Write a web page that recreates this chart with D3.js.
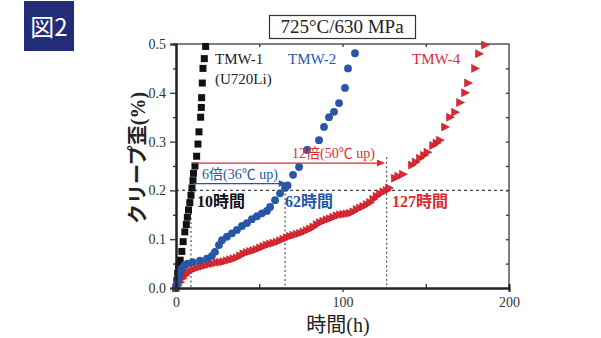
<!DOCTYPE html>
<meta charset="utf-8">
<style>
body { margin: 0; background: #fff; }
svg { display: block; }
.serif { font-family: "Liberation Serif", "Noto Sans CJK JP", serif; }
</style>
<body>
<script src="https://d3js.org/d3.v7.min.js"></script>
<script>

// creep curves: [hours, strain %]
var tmw1 = [[0,0],[0.5,0.015],[1,0.03],[1.5,0.045],[2.5,0.057],[3.5,0.075],[4.3,0.095],
  [5.3,0.115],[6.2,0.13],[6.8,0.145],[7.5,0.16],[8.3,0.175],[9,0.19],[9.6,0.205],[10.2,0.22],
  [10.5,0.235],[11.4,0.25],[12.4,0.27],[13.2,0.295],[13.8,0.32],[14.8,0.35],[15.2,0.37],
  [15.4,0.39],[15.8,0.42],[16.2,0.45],[17,0.47],[17.8,0.495]];

var tmw2 = [[0,0],[1,0.01],[1.5,0.02],[2.5,0.03],[3.5,0.04],[5,0.047],[7,0.05],[10,0.053],
  [14.4,0.056],[18.6,0.06],[21.6,0.066],[23.4,0.074],[25.8,0.088],[27.6,0.098],[30.6,0.105],
  [33.6,0.112],[36.6,0.119],[39.6,0.127],[42.6,0.133],[45.6,0.141],[48.6,0.147],[51.6,0.153],
  [54.6,0.158],[56.5,0.166],[59.5,0.18],[62.5,0.194],[65.5,0.205],[67,0.21],[70.3,0.232],
  [73.9,0.248],[78.7,0.283],[85.9,0.303],[88.9,0.33],[91.9,0.35],[94.9,0.361],[97.9,0.379],
  [101.5,0.41],[103.3,0.45],[107.5,0.481]];

var tmw4 = [[0,0],[1,0.005],[2.5,0.012],[4,0.02],[5.5,0.026],[7,0.031],[8.5,0.035],[10.5,0.038],
  [12.5,0.041],[14.5,0.043],[16.5,0.045],[18.5,0.047],[20.5,0.049],[22.5,0.05],[24.5,0.052],
  [26.5,0.053],[28.5,0.054],[30.5,0.056],[32.5,0.058],[34.5,0.06],[36.5,0.062],[38.5,0.066],
  [40.5,0.07],[42.5,0.073],[44.5,0.075],[46.5,0.077],[48.5,0.079],[50.5,0.082],[52.5,0.085],
  [54.5,0.088],[56.5,0.09],[58.5,0.092],[60.5,0.094],[62.5,0.097],[64.5,0.1],[66.5,0.103],
  [68.5,0.106],[70.5,0.108],[72.5,0.11],[74.5,0.112],[76.5,0.115],[78.5,0.118],[80.5,0.121],
  [82.5,0.125],[84.5,0.13],[86.5,0.134],[88.5,0.137],[90.5,0.14],[92.5,0.142],[94.5,0.145],
  [96.5,0.148],[98.5,0.15],[100.5,0.151],[102.5,0.152],[104.5,0.153],[106.5,0.156],[108.5,0.161],
  [110.5,0.164],[112.5,0.167],[114.5,0.171],[116.5,0.175],[118.5,0.182],[120.5,0.188],
  [122.5,0.193],[124.5,0.197],[126.5,0.2],[128,0.205],[131.5,0.225],[133.5,0.229],[136.3,0.233],
  [141.7,0.252],[144,0.258],[146.5,0.266],[149,0.272],[151,0.278],[154.4,0.292],[156.5,0.297],
  [158.5,0.303],[161.6,0.33],[164.6,0.35],[167.6,0.36],[170.6,0.38],[173.6,0.4],[175.4,0.42],
  [179.6,0.45],[182,0.48],[185.6,0.498]];

var xTicks = [0, 100, 200];
var yTicks = [0, 0.1, 0.2, 0.3, 0.4, 0.5];

// times to reach 0.2 %, where the dotted guides are drawn
var crossHours = [9, 65.5, 126.5];
var crossLabels = ["10時間", "62時間", "127時間"];

var blk = "#111", blu = "#2856a6", red = "#dc2a33";

var svg = d3.select("body").append("svg")
    .attr("width", 601)
    .attr("height", 338);

var x = d3.scaleLinear().domain([0, 200]).range([176, 509]);
var y = d3.scaleLinear().domain([0, 0.5]).range([288, 44]);

// badge
svg.append("rect").attr("x", 24).attr("y", 1).attr("width", 50).attr("height", 50)
    .style("fill", "#232c77");
svg.append("text").attr("x", 49).attr("y", 36).attr("text-anchor", "middle")
    .style("font-family", "'Noto Sans CJK JP', sans-serif").style("font-size", "24px")
    .style("fill", "#fff").text("図2");

// title box
svg.append("rect").attr("x", 269.5).attr("y", 15.5).attr("width", 146).attr("height", 23)
    .style("fill", "none").style("stroke", "#333").style("stroke-width", 1.2);
svg.append("text").attr("class", "serif").attr("x", 342).attr("y", 33)
    .attr("text-anchor", "middle").style("font-size", "19px").style("fill", "#222")
    .text("725°C/630 MPa");

// frame (top and right)
svg.append("path")
    .attr("d", "M" + x(0) + "," + y(0.5) + "H" + x(200) + "V" + y(0))
    .style("fill", "none").style("stroke", "#555").style("stroke-width", 1.5);

function styleAxis(g) {
  g.selectAll("line").style("stroke", "#333").style("stroke-width", 1.3);
  g.selectAll("path.domain").style("stroke", "#222").style("stroke-width", 2);
  g.selectAll("text").style("font-family", "'Liberation Serif', serif")
      .style("font-size", "14px").style("fill", "#333");
}

// right and top inward ticks
svg.append("g").attr("transform", "translate(" + x(200) + ",0)")
    .call(d3.axisRight(y).tickValues(d3.range(0.05, 0.5, 0.05)).tickSize(-3).tickFormat(""))
    .call(function(g) { g.select(".domain").remove(); })
    .call(styleAxis);
svg.append("g").attr("transform", "translate(0," + y(0.5) + ")")
    .call(d3.axisTop(x).tickValues([50, 100, 150]).tickSize(-3).tickFormat(""))
    .call(function(g) { g.select(".domain").remove(); })
    .call(styleAxis);

// guide lines
svg.append("line").attr("x1", x(0)).attr("x2", x(200)).attr("y1", y(0.2)).attr("y2", y(0.2))
    .style("stroke", "#444").style("stroke-width", 1.2).style("stroke-dasharray", "3,3");
var guideTops = [0.2, 0.212, 0.268];
crossHours.forEach(function(h, i) {
  svg.append("line").attr("x1", x(h)).attr("x2", x(h)).attr("y1", y(guideTops[i])).attr("y2", y(0))
      .style("stroke", "#555").style("stroke-width", 1.2).style("stroke-dasharray", "2,2.5");
});

// markers
var sq = 7;
svg.append("g").selectAll("rect").data(tmw1).enter().append("rect")
    .attr("x", function(d) { return x(d[0]) - sq / 2; })
    .attr("y", function(d) { return y(d[1]) - sq / 2; })
    .attr("width", sq).attr("height", sq).style("fill", blk);

svg.append("g").selectAll("path").data(tmw4).enter().append("path")
    .attr("d", "M-3.5,-4L4.5,0L-3.5,4Z")
    .attr("transform", function(d) { return "translate(" + x(d[0]) + "," + y(d[1]) + ")"; })
    .style("fill", red).style("stroke", "#b5121c").style("stroke-width", 0.5);

svg.append("g").selectAll("circle").data(tmw2).enter().append("circle")
    .attr("cx", function(d) { return x(d[0]); })
    .attr("cy", function(d) { return y(d[1]); })
    .attr("r", 3.9).style("fill", blu);

// axes
var yAxis = svg.append("g").attr("transform", "translate(" + x(0) + ",0)");
yAxis.call(d3.axisLeft(y).tickValues(d3.range(0.05, 0.5, 0.1)).tickSize(3).tickFormat(""));
yAxis.append("g").call(d3.axisLeft(y).tickValues(yTicks).tickSize(6).tickPadding(4)
    .tickFormat(d3.format(".1f")));
yAxis.call(styleAxis);

var xAxis = svg.append("g").attr("transform", "translate(0," + y(0) + ")");
xAxis.call(d3.axisBottom(x).tickValues([50, 150]).tickSize(-4).tickFormat(""));
xAxis.append("g").call(d3.axisBottom(x).tickValues(xTicks).tickSize(4).tickPadding(5));
xAxis.call(styleAxis);

// arrows
function arrow(h0, h1, s, col) {
  var yy = y(s);
  svg.append("line").attr("x1", x(h0)).attr("x2", x(h1) - 6).attr("y1", yy).attr("y2", yy)
      .style("stroke", col).style("stroke-width", 1.3);
  svg.append("path")
      .attr("d", "M" + x(h1) + "," + yy + "l-8,-3.5v7z").style("fill", col);
}
arrow(10, 125.5, 0.256, red);
arrow(10.5, 66.5, 0.214, blu);

svg.append("text").attr("class", "serif").attr("x", 292).attr("y", 158)
    .style("font-size", "14px").style("fill", red).text("12倍(50℃ up)");
svg.append("text").attr("class", "serif").attr("x", 202).attr("y", 179)
    .style("font-size", "14px").style("fill", blu).text("6倍(36℃ up)");

// time labels
var labelX = [197, 285, 392], labelCol = [blk, blu, red];
crossLabels.forEach(function(t, i) {
  svg.append("text").attr("class", "serif").attr("x", labelX[i]).attr("y", 207)
      .style("font-size", "16px").style("font-weight", "bold").style("fill", labelCol[i]).text(t);
});

// series names
var names = svg.append("g").attr("class", "serif").style("font-size", "15px");
names.append("text").attr("x", 215).attr("y", 64).style("fill", "#222").text("TMW-1");
names.append("text").attr("x", 215).attr("y", 84).style("fill", "#222").text("(U720Li)");
names.append("text").attr("x", 288).attr("y", 64).style("fill", blu).text("TMW-2");
names.append("text").attr("x", 412).attr("y", 64).style("fill", red).text("TMW-4");

// axis titles
svg.append("text").attr("class", "serif")
    .attr("transform", "translate(145,158) rotate(-90)").attr("text-anchor", "middle")
    .style("font-size", "20px").style("font-weight", "bold").style("fill", "#222")
    .text("クリープ歪(%)");
svg.append("text").attr("class", "serif").attr("x", 338).attr("y", 332)
    .attr("text-anchor", "middle").style("font-size", "20px").style("fill", "#222")
    .text("時間(h)");

</script>
</body>
